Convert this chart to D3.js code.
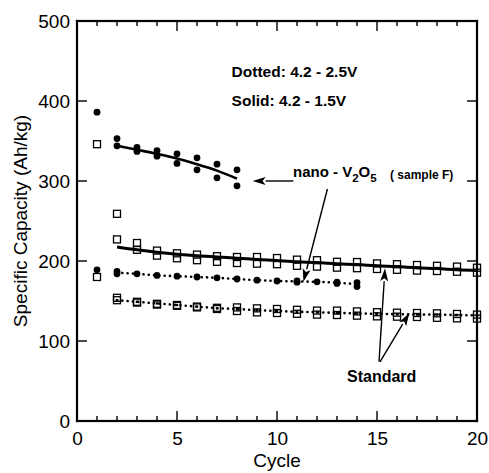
<!DOCTYPE html>
<html>
<head>
<meta charset="utf-8">
<script src="https://cdn.jsdelivr.net/npm/d3@7"></script>
<style>
  body { margin: 0; background: #fff; }
  text { font-family: "Liberation Sans", Arial, sans-serif; fill: #000; }
</style>
</head>
<body>
<svg width="489" height="473"></svg>
<script>
// values: [cycle, capacity]
const yTicks = [0, 100, 200, 300, 400, 500];
const xTicks = [0, 5, 10, 15, 20];
const xMinor = [1, 2, 3, 4, 6, 7, 8, 9, 11, 12, 13, 14, 16, 17, 18, 19];

// nano V2O5, 4.2 - 1.5V (filled circles, solid fit)
const nanoWide = [[1,386],[2,353],[2,344],[3,342],[3,337],[4,338],[4,331],[5,334],[5,322],
  [6,329],[6,314],[7,321],[7,304],[8,314],[8,294]];
const nanoWideFit = [[2,344],[3,339],[4,334],[5,328],[6,321],[7,313],[8,303]];

// nano V2O5, 4.2 - 2.5V (filled circles, dotted)
const nanoNarrow = [[1,189],[2,187],[2,184],[3,184],[4,182],[5,181],[6,180],[7,179],[8,177.5],
  [9,176],[10,175],[11,175],[11,173.5],[12,174],[13,173.5],[13,172],[14,173],[14,168]];
const nanoNarrowLine = [[2,185.5],[3,184],[4,182],[5,181],[6,180],[7,179],[8,177.5],[9,176],
  [10,175],[11,174.5],[12,174],[13,173],[14,171]];

// standard, 4.2 - 1.5V (open squares, solid fit)
const stdWide = [[1,346],[2,259],[2,227],[3,222.5],[3,214],[4,213],[4,206.7],[5,209.6],[5,203.4],
  [6,208],[6,201],[7,206],[7,199],[8,205],[8,197.5],[9,205],[9,196.7],[10,203.7],[10,196],
  [11,201.7],[11,194],[12,201],[12,193],[13,199],[13,191.7],[14,198.7],[14,191],[15,197],[15,190],
  [16,196],[16,189],[17,195],[17,188],[18,194],[18,187.5],[19,193],[19,186.6],[20,191.6],[20,185.4]];
const stdWideFit = [[2,217.5],[3,214],[4,211],[5,208.5],[6,206.5],[7,205],[8,203.5],[9,202],
  [10,200.5],[11,199],[12,198],[13,196.5],[14,195.5],[15,194],[16,193],[17,191.5],[18,190.5],
  [19,189],[20,188]];

// standard, 4.2 - 2.5V (open squares, dotted)
const stdNarrow = [[1,180],[2,154],[2,151],[3,149],[3,148],[4,146.5],[4,145.5],[5,145],[5,144],
  [6,143],[6,142],[7,141.5],[7,140],[8,142],[8,137.5],[9,140.8],[9,135.8],[10,140],[10,135],
  [11,139],[11,134],[12,138],[12,133],[13,138],[13,132.5],[14,137],[14,131.7],[15,136],[15,130.8],
  [16,135.4],[16,130.4],[17,135],[17,130],[18,134.6],[18,129],[19,133.8],[19,128.3],[20,133],[20,128]];
const stdNarrowLine = [[2,151],[3,149],[4,147],[5,145],[6,143],[7,141],[8,140],[9,138.5],
  [10,137.5],[11,136.5],[12,136],[13,135],[14,134.5],[15,134],[16,133.5],[17,133],[18,133],
  [19,132.5],[20,132]];

// annotation arrows [from, to] in data units
const arrows = [
  [[10.82, 300], [8.78, 300]],
  [[12.52, 290], [11.32, 174]],
  [[15.1, 74], [15.4, 191]],
  [[15.15, 74], [16.62, 135]]
];

const svg = d3.select("svg"),
  margin = {left: 77, right: 12, top: 21, bottom: 52},
  width = +svg.attr("width"),
  height = +svg.attr("height"),
  w = width - margin.left - margin.right,
  h = height - margin.top - margin.bottom;

const x = d3.scaleLinear().domain([0, 20]).range([margin.left, margin.left + w]);
const y = d3.scaleLinear().domain([0, 500]).range([margin.top + h, margin.top]);

const line = d3.line().x(d => x(d[0])).y(d => y(d[1]));
const smooth = d3.line().x(d => x(d[0])).y(d => y(d[1])).curve(d3.curveMonotoneX);

// dotted lines
[nanoNarrowLine, stdNarrowLine].forEach(data => {
  svg.append("path").datum(data)
    .attr("d", line)
    .attr("fill", "none").attr("stroke", "#000")
    .attr("stroke-width", 2.6)
    .attr("stroke-linecap", "round")
    .attr("stroke-dasharray", "0.1 5.2");
});

// open squares
const sq = 7;
[stdWide, stdNarrow].forEach(data => {
  svg.append("g").selectAll("rect").data(data).enter().append("rect")
    .attr("x", d => x(d[0]) - sq / 2)
    .attr("y", d => y(d[1]) - sq / 2)
    .attr("width", sq).attr("height", sq)
    .attr("fill", "none").attr("stroke", "#000").attr("stroke-width", 1.3);
});

// small marks inside dotted squares
svg.append("g").selectAll("rect").data(stdNarrowLine).enter().append("rect")
  .attr("x", d => x(d[0]) - 1.2)
  .attr("y", d => y(d[1]) - 1.2)
  .attr("width", 2.4).attr("height", 2.4)
  .attr("fill", "#000");

// filled circles
[nanoWide, nanoNarrow].forEach(data => {
  svg.append("g").selectAll("circle").data(data).enter().append("circle")
    .attr("cx", d => x(d[0]))
    .attr("cy", d => y(d[1]))
    .attr("r", 3.4)
    .attr("fill", "#000");
});

// solid fit lines
svg.append("path").datum(nanoWideFit)
  .attr("d", smooth).attr("fill", "none").attr("stroke", "#000").attr("stroke-width", 2.6);
svg.append("path").datum(stdWideFit)
  .attr("d", smooth).attr("fill", "none").attr("stroke", "#000").attr("stroke-width", 3);

// arrows: shaft plus a filled head
const headLen = 13, headHalf = 4;
const arrowG = svg.append("g");
arrows.forEach(a => {
  const x1 = x(a[0][0]), y1 = y(a[0][1]), x2 = x(a[1][0]), y2 = y(a[1][1]);
  const ang = Math.atan2(y2 - y1, x2 - x1);
  const bx = x2 - headLen * Math.cos(ang), by = y2 - headLen * Math.sin(ang);
  arrowG.append("line")
    .attr("x1", x1).attr("y1", y1).attr("x2", bx).attr("y2", by)
    .attr("stroke", "#000").attr("stroke-width", 1.4);
  const px = -Math.sin(ang) * headHalf, py = Math.cos(ang) * headHalf;
  arrowG.append("path")
    .attr("d", `M${x2},${y2}L${bx + px},${by + py}L${bx + 3 * Math.cos(ang)},${by + 3 * Math.sin(ang)}L${bx - px},${by - py}Z`)
    .attr("fill", "#000");
});

// labels
const bold = (t, px, py, size) => svg.append("text")
  .attr("x", px).attr("y", py)
  .style("font-size", size + "px").style("font-weight", "bold")
  .text(t);

bold("Dotted: 4.2 - 2.5V", x(7.73), y(430), 15.5);
bold("Solid: 4.2 - 1.5V", x(7.73), y(394), 15.5);
bold("Standard", x(13.5), y(49), 16);

const nano = svg.append("text")
  .attr("x", x(10.8)).attr("y", y(305))
  .style("font-size", "15px").style("font-weight", "bold");
nano.append("tspan").text("nano - V");
nano.append("tspan").attr("dy", 5).style("font-size", "11.5px").text("2");
nano.append("tspan").attr("dy", -5).text("O");
nano.append("tspan").attr("dy", 5).style("font-size", "11.5px").text("5");
bold("( sample F)", x(15.65), y(302), 12);

// axis titles
svg.append("text")
  .attr("x", (x(0) + x(20)) / 2).attr("y", 467)
  .attr("text-anchor", "middle").style("font-size", "19px")
  .text("Cycle");
svg.append("text")
  .attr("transform", `translate(27,${(y(0) + y(500)) / 2}) rotate(-90)`)
  .attr("text-anchor", "middle").style("font-size", "19px")
  .text("Specific Capacity (Ah/kg)");

// tick labels from the axes
function labelsOnly(g) {
  g.attr("font-family", null).attr("font-size", null);
  g.select(".domain").remove();
  g.selectAll(".tick line").remove();
  g.selectAll(".tick text").style("font-size", "19px");
}
svg.append("g").attr("transform", `translate(0,${y(0)})`)
  .call(d3.axisBottom(x).tickValues(xTicks).tickSize(0).tickPadding(10.5))
  .call(labelsOnly);
svg.append("g").attr("transform", `translate(${x(0)},0)`)
  .call(d3.axisLeft(y).tickValues(yTicks).tickSize(0).tickPadding(7))
  .call(labelsOnly);

// frame and inward ticks drawn as filled bars
const ink = svg.append("g").attr("fill", "#000");
const fw = 2.2, tw = 1.4;
ink.append("rect").attr("x", x(0) - fw / 2).attr("y", y(500) - fw / 2).attr("width", x(20) - x(0) + fw).attr("height", fw);
ink.append("rect").attr("x", x(0) - fw / 2).attr("y", y(0) - fw / 2).attr("width", x(20) - x(0) + fw).attr("height", fw);
ink.append("rect").attr("x", x(0) - fw / 2).attr("y", y(500) - fw / 2).attr("width", fw).attr("height", y(0) - y(500) + fw);
ink.append("rect").attr("x", x(20) - fw / 2).attr("y", y(500) - fw / 2).attr("width", fw).attr("height", y(0) - y(500) + fw);

const xTickData = xTicks.slice(1, -1).map(v => [v, 10]).concat(xMinor.map(v => [v, 5]));
ink.selectAll("rect.xb").data(xTickData).enter().append("rect").attr("class", "xb")
  .attr("x", d => x(d[0]) - tw / 2).attr("y", d => y(0) - d[1]).attr("width", tw).attr("height", d => d[1]);
ink.selectAll("rect.xt").data(xTickData).enter().append("rect").attr("class", "xt")
  .attr("x", d => x(d[0]) - tw / 2).attr("y", y(500)).attr("width", tw).attr("height", d => d[1]);
const yInner = yTicks.slice(1, -1);
ink.selectAll("rect.yl").data(yInner).enter().append("rect").attr("class", "yl")
  .attr("x", x(0)).attr("y", d => y(d) - tw / 2).attr("width", 10).attr("height", tw);
ink.selectAll("rect.yr").data(yInner).enter().append("rect").attr("class", "yr")
  .attr("x", x(20) - 10).attr("y", d => y(d) - tw / 2).attr("width", 10).attr("height", tw);
</script>
</body>
</html>
